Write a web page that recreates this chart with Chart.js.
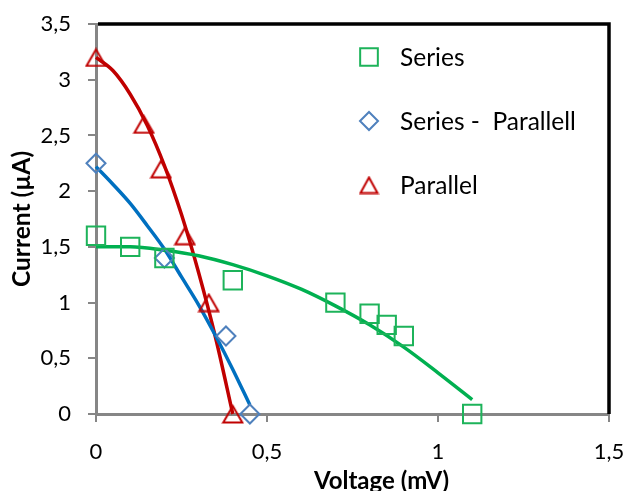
<!DOCTYPE html>
<html>
<head>
<meta charset="utf-8">
<script src="https://cdn.jsdelivr.net/npm/chart.js@4.4.1/dist/chart.umd.min.js"></script>
<style>
  html, body { margin: 0; padding: 0; background: #fff; }
  #wrap { width: 627px; height: 491px; position: relative; }
</style>
</head>
<body>
<div id="wrap"><canvas id="c"></canvas></div>
<script>
// measured points
const seriesV = [0, 0.1, 0.2, 0.4, 0.7, 0.8, 0.85, 0.9, 1.1];
const seriesI = [1.6, 1.5, 1.4, 1.2, 1.0, 0.9, 0.8, 0.7, 0];
const spV = [0, 0.2, 0.38, 0.45];
const spI = [2.25, 1.4, 0.7, 0];
const parV = [0, 0.14, 0.19, 0.26, 0.33, 0.4];
const parI = [3.2, 2.6, 2.2, 1.6, 1.0, 0];

// trend curves
const seriesFitV = [0, 0.1, 0.2, 0.3, 0.4, 0.5, 0.6, 0.7, 0.8, 0.9, 1.0, 1.1];
const seriesFitI = [1.50, 1.50, 1.47, 1.42, 1.34, 1.24, 1.12, 0.97, 0.80, 0.60, 0.37, 0.13];
const spFitV = [0, 0.05, 0.1, 0.15, 0.2, 0.25, 0.3, 0.35, 0.4, 0.45];
const spFitI = [2.22, 2.06, 1.89, 1.69, 1.48, 1.23, 0.98, 0.70, 0.40, 0.08];
const parFitV = [0, 0.05, 0.1, 0.15, 0.2, 0.25, 0.3, 0.35, 0.4];
const parFitI = [3.2, 3.08, 2.87, 2.59, 2.23, 1.79, 1.27, 0.68, 0.0];

const xTicks = [0, 0.5, 1, 1.5];
const yTicks = [0, 0.5, 1, 1.5, 2, 2.5, 3, 3.5];

const labels = ["Series", "Series -  Parallell", "Parallel"];
const xTitle = "Voltage (mV)";
const yTitle = "Current (µA)";

const FONT = "Lato, 'Open Sans', sans-serif";
const comma = (v) => String(v).replace(".", ",");
const pts = (xs, ys) => xs.map((x, i) => ({ x, y: ys[i] }));

const GREEN = "#00b050", GREEN_MK = "#1db35a";
const BLUE = "#0070c0", BLUE_MK = "#4f81bd";
const RED = "#c00000";

// Excel centres the triangle's box on the point, so draw it as a small canvas
function triangleIcon(w, h, color) {
  const c = document.createElement("canvas");
  c.width = w + 4; c.height = h + 4;
  const g = c.getContext("2d");
  g.strokeStyle = color; g.lineWidth = 2; g.lineJoin = "miter";
  g.beginPath();
  g.moveTo(c.width / 2, 2);
  g.lineTo(c.width - 2, h + 2);
  g.lineTo(2, h + 2);
  g.closePath();
  g.stroke();
  return c;
}
const triData = triangleIcon(19, 16.5, RED);
const triLegend = triangleIcon(17.5, 15.5, RED);

const marker = (label, data, style, color, r, legendStyle, legendR) => ({
  label, data, legend: true, pointStyle: style, pointRadius: r, pointHoverRadius: r,
  pointBorderColor: color, pointBackgroundColor: "rgba(0,0,0,0)", pointBorderWidth: 2,
  borderColor: color, showLine: false, clip: false, order: 1,
  legendStyle, legendR,
});
const fit = (data, color) => ({
  data, showLine: true, borderColor: color, borderWidth: 3.5, pointRadius: 0,
  tension: 0.4, cubicInterpolationMode: "monotone", fill: false, clip: false, order: 2,
});

// top + right frame in black
const frame = {
  id: "frame",
  beforeDatasetsDraw(chart) {
    const { ctx, chartArea: a } = chart;
    ctx.save();
    ctx.strokeStyle = "#000";
    ctx.lineWidth = 3.5;
    ctx.beginPath();
    ctx.moveTo(a.left + 2, a.top);
    ctx.lineTo(a.right, a.top);
    ctx.lineTo(a.right, a.bottom);
    ctx.stroke();
    ctx.restore();
  },
};

// legend inside the plot + the x title (Excel puts it right of centre)
const legendBox = {
  id: "legendBox",
  afterDraw(chart) {
    const { ctx, chartArea: a } = chart;
    const items = chart.data.datasets.filter((d) => d.legend);
    items.forEach((d, i) => {
      const x = a.left + 273, y = a.top + 33 + i * 64;
      ctx.save();
      ctx.strokeStyle = d.pointBorderColor;
      ctx.fillStyle = "rgba(0,0,0,0)";
      Chart.helpers.drawPoint(ctx, { pointStyle: d.legendStyle, radius: d.legendR, borderWidth: 2, rotation: 0 }, x, y);
      ctx.fillStyle = "#000";
      ctx.font = "24.5px " + FONT;
      ctx.textBaseline = "middle";
      ctx.fillText(d.label, a.left + 304, y + 1);
      ctx.restore();
    });
    ctx.save();
    ctx.fillStyle = "#000";
    ctx.font = "bold 24px " + FONT;
    ctx.textAlign = "center";
    ctx.textBaseline = "middle";
    ctx.fillText(xTitle, (a.left + a.right) / 2 + 29, a.bottom + 67);
    ctx.restore();
  },
};

new Chart(document.getElementById("c"), {
  type: "scatter",
  data: {
    datasets: [
      marker(labels[0], pts(seriesV, seriesI), "rect", GREEN_MK, 13, "rect", 12.5),
      marker(labels[1], pts(spV, spI), "rectRot", BLUE_MK, 9.5, "rectRot", 9),
      marker(labels[2], pts(parV, parI), triData, RED, 11, triLegend, 10),
      fit(pts(seriesFitV, seriesFitI), GREEN),
      fit(pts(spFitV, spFitI), BLUE),
      fit(pts(parFitV, parFitI), RED),
    ],
  },
  options: {
    responsive: true, maintainAspectRatio: false, animation: false,
    layout: { padding: { top: 24, right: 18, left: 0, bottom: 0 } },
    plugins: { legend: { display: false }, tooltip: { enabled: false } },
    scales: {
      x: {
        type: "linear", min: 0, max: 1.5,
        afterBuildTicks: (s) => { s.ticks = xTicks.map((v) => ({ value: v })); },
        afterFit: (s) => { s.height = 77; s.paddingLeft = 0; s.paddingRight = 0; },
        grid: { drawOnChartArea: false, drawTicks: true, tickLength: 8, color: "#868686", lineWidth: 2 },
        border: { display: true, color: "#868686", width: 3 },
        ticks: { color: "#000", font: { family: FONT, size: 22 }, padding: 17, callback: comma, maxRotation: 0 },
        title: { display: false },
      },
      y: {
        type: "linear", min: 0, max: 3.5,
        afterBuildTicks: (s) => { s.ticks = yTicks.map((v) => ({ value: v })); },
        afterFit: (s) => { s.width = 96; s.paddingTop = 0; s.paddingBottom = 0; },
        grid: { drawOnChartArea: false, drawTicks: true, tickLength: 8, color: "#868686", lineWidth: 2 },
        border: { display: true, color: "#868686", width: 3 },
        ticks: { color: "#000", font: { family: FONT, size: 22 }, padding: 17, callback: comma },
        title: { display: true, text: yTitle, color: "#000", font: { family: FONT, size: 24.5, weight: "bold" }, padding: { top: 7, bottom: 0 } },
      },
    },
  },
  plugins: [frame, legendBox],
});
</script>
</body>
</html>
